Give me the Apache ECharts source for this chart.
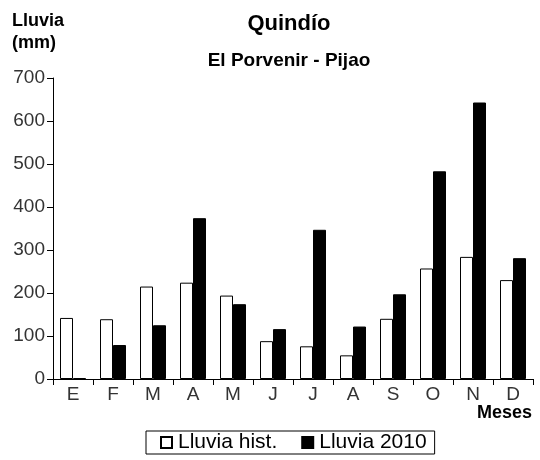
<!DOCTYPE html>
<html><head><meta charset="utf-8">
<script src="https://cdn.jsdelivr.net/npm/echarts@6/dist/echarts.min.js"></script>
<style>html,body{margin:0;padding:0;background:#fff}#c{width:540px;height:460px}</style>
</head><body><div id="c"></div>
<script>
const months = ['E','F','M','A','M','J','J','A','S','O','N','D'];
const lluviaHist = [142, 139, 215, 224, 194, 88, 76, 55, 140, 257, 284, 230];
const lluvia2010 = [2, 79, 125, 374, 174, 116, 347, 122, 197, 483, 643, 281];
const yTicks = [0, 100, 200, 300, 400, 500, 600, 700];

const FONT = 'Liberation Sans, Arial, sans-serif';
const chart = echarts.init(document.getElementById('c'), null, {renderer: 'canvas'});
chart.setOption({
  animation: false,
  backgroundColor: '#fff',
  title: [
    {text: 'Quindío', left: 284, top: 8, textAlign: 'center',
     textStyle: {fontFamily: FONT, fontWeight: 'bold', fontSize: 22, color: '#000'}},
    {text: 'El Porvenir - Pijao', left: 284, top: 46, textAlign: 'center',
     textStyle: {fontFamily: FONT, fontWeight: 'bold', fontSize: 19, color: '#000'}}
  ],
  graphic: [
    {type: 'text', left: 12, top: 10, style: {text: 'Lluvia\n(mm)', font: 'bold 18px ' + FONT, fill: '#000', lineHeight: 22}},
    {type: 'text', right: 8, top: 404, style: {text: 'Meses', font: 'bold 18px ' + FONT, fill: '#000'}}
  ],
  legend: {
    left: 146, top: 431,
    data: ['Lluvia hist.', 'Lluvia 2010'],
    icon: 'rect', itemWidth: 11, itemHeight: 11, itemGap: 24,
    borderColor: '#000', borderWidth: 1, padding: [1, 8, 1, 14],
    textStyle: {fontFamily: FONT, fontSize: 21, color: '#000', padding: [0, 0, 0, 1]}
  },
  grid: {left: 53, right: 7, top: 78, bottom: 81, containLabel: false},
  xAxis: {
    type: 'category', data: months,
    axisLine: {lineStyle: {color: '#000', width: 1}},
    axisTick: {show: true, length: 6, lineStyle: {color: '#000'}},
    axisLabel: {fontFamily: FONT, fontSize: 19, color: '#333', margin: 6}
  },
  yAxis: {
    type: 'value', min: 0, max: 700, interval: 100,
    axisLine: {show: true, lineStyle: {color: '#000'}},
    axisTick: {show: true, length: 6, lineStyle: {color: '#000'}},
    splitLine: {show: false},
    axisLabel: {fontFamily: FONT, fontSize: 19, color: '#333', margin: 8,
      formatter: v => yTicks.includes(v) ? String(v) : ''}
  },
  series: [
    {name: 'Lluvia hist.', type: 'bar', data: lluviaHist, barGap: '0%', barCategoryGap: '35%',
     itemStyle: {color: '#fff', borderColor: '#000', borderWidth: 1}},
    {name: 'Lluvia 2010', type: 'bar', data: lluvia2010,
     itemStyle: {color: '#000', borderColor: '#000', borderWidth: 1}}
  ]
});
</script></body></html>
